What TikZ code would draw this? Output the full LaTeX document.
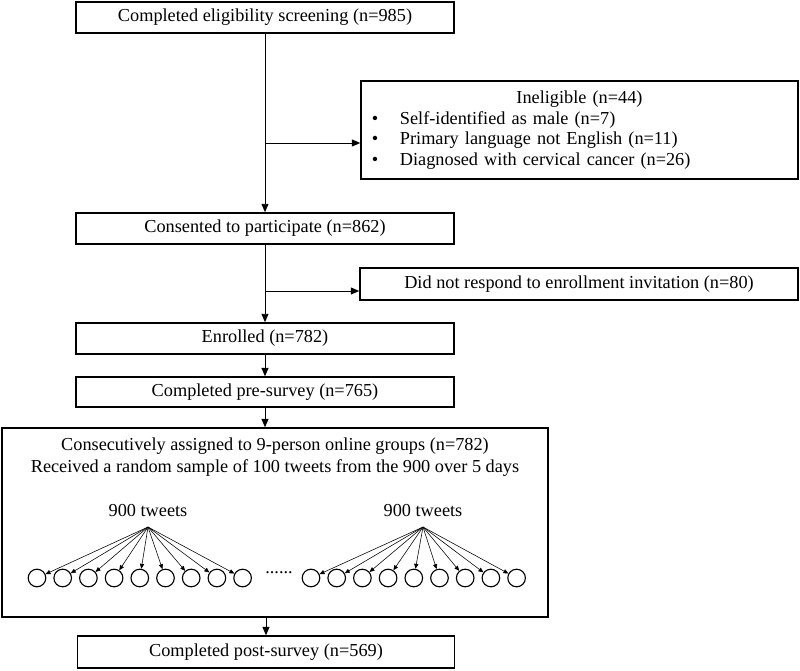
\documentclass[tikz,border=0pt]{standalone}
\usepackage{fontspec}
\setmainfont{Liberation Serif}
\usetikzlibrary{arrows.meta}

\tikzset{
 box/.style={draw, line width=1pt, inner sep=0pt, minimum width=9.45cm, minimum height=0.78cm, font=\fontsize{13}{14.7}\selectfont},
 flow/.style={line width=0.7pt, -{Triangle[length=6pt,width=5pt]}},
 tweet/.style={draw, circle, line width=0.8pt, inner sep=0pt, minimum size=0.44cm},
 share/.style={line width=0.4pt, -{Triangle[length=3.5pt,width=3pt]}}
}

\begin{document}
\begin{tikzpicture}[x=0.025cm, y=-0.025cm]
 \useasboundingbox (0,0) rectangle (800,670);
 \node[box] (screen) at (265,17.5) {Completed eligibility screening (n=985)};
 \node[box, minimum width=10.925cm, minimum height=2.45cm, text width=10.375cm, inner xsep=0.275cm, align=left] (inelig) at (579.5,130) {%
 \makebox[\linewidth]{Ineligible (n=44)}\\
 \makebox[0.7cm][l]{\textbullet}Self-identified as male (n=7)\\
 \makebox[0.7cm][l]{\textbullet}Primary language not English (n=11)\\
 \makebox[0.7cm][l]{\textbullet}Diagnosed with cervical cancer (n=26)};
 \node[box] (consent) at (265,228.5) {Consented to participate (n=862)};
 \node[box, minimum width=10.95cm, minimum height=0.8cm] (norespond) at (579,284) {Did not respond to enrollment invitation (n=80)};
 \node[box] (enrol) at (265,338.5) {Enrolled (n=782)};
 \node[box, minimum height=0.75cm] (presurvey) at (265,392) {Completed pre-survey (n=765)};
 \node[box, minimum width=13.65cm, minimum height=4.725cm] (group) at (275,522.5) {};
 \node[align=center, font=\fontsize{13}{15.5}\selectfont] (assign) at (275,457) {Consecutively assigned to 9-person online groups (n=782)\\ Received a random sample of 100 tweets from the 900 over 5 days};
 \node[box, minimum width=9.425cm, minimum height=0.8cm] (postsurvey) at (266,652) {Completed post-survey (n=569)};

 % main flow
 \coordinate (b1) at (265,143);
 \coordinate (b2) at (265,291);
 \draw[flow] (screen.south) -- (consent.north);
 \draw[flow] (b1) -- (b1 -| inelig.west);
 \draw[flow] (consent.south) -- (enrol.north);
 \draw[flow] (b2) -- (b2 -| norespond.west);
 \draw[flow] (enrol.south) -- (presurvey.north);
 \draw[flow] (presurvey.south) -- (presurvey.south |- group.north);
 \draw[flow] (postsurvey.north |- group.south) -- (postsurvey.north);

 % tweets to the members of each group
 \node[font=\fontsize{13}{14}\selectfont] (tw1) at (148,511) {900 tweets};
 \node[font=\fontsize{13}{14}\selectfont] (tw2) at (423,511) {900 tweets};
 \coordinate (top1) at (148,527);
 \coordinate (top2) at (423,527);
 \foreach \i in {0,...,8}{
 \node[tweet] (m1\i) at (37+\i*25.7,578) {};
 \node[tweet] (m2\i) at (311+\i*25.7,578) {};
 \draw[share] (top1) -- (m1\i);
 \draw[share] (top2) -- (m2\i);}
 \node[font=\fontsize{13}{14}\selectfont] (dots) at (279,573) {......};
\end{tikzpicture}
\end{document}
